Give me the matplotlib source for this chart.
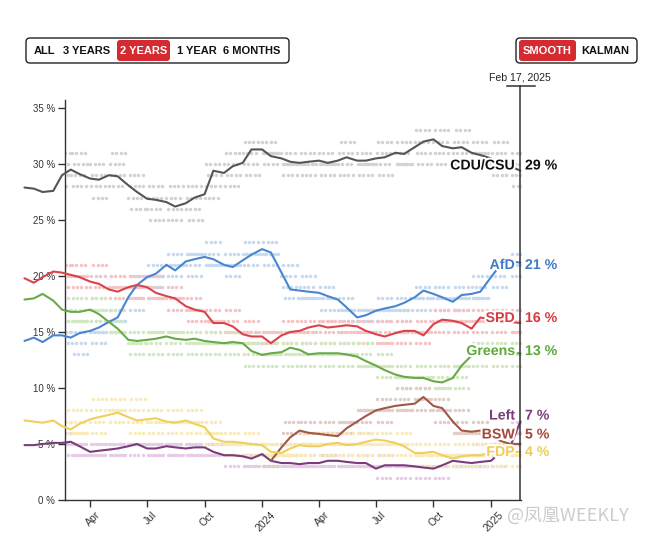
import numpy as np
import pandas as pd
import matplotlib
matplotlib.use("Agg")
import matplotlib.pyplot as plt
import matplotlib.dates as mdates
import matplotlib.patheffects as pe
import matplotlib.transforms as mtransforms
from matplotlib.patches import FancyBboxPatch

plt.rcParams['font.family'] = ['Liberation Sans', 'DejaVu Sans']

# smoothed trend, read twice a month
dates = pd.to_datetime([
    "2022-12-17",
    "2023-01-01", "2023-01-15", "2023-02-01", "2023-02-15", "2023-03-01", "2023-03-15",
    "2023-04-01", "2023-04-15", "2023-05-01", "2023-05-15", "2023-06-01", "2023-06-15",
    "2023-07-01", "2023-07-15", "2023-08-01", "2023-08-15", "2023-09-01", "2023-09-15",
    "2023-10-01", "2023-10-15", "2023-11-01", "2023-11-15", "2023-12-01", "2023-12-15",
    "2024-01-01", "2024-01-15", "2024-02-01", "2024-02-15", "2024-03-01", "2024-03-15",
    "2024-04-01", "2024-04-15", "2024-05-01", "2024-05-15", "2024-06-01", "2024-06-15",
    "2024-07-01", "2024-07-15", "2024-08-01", "2024-08-15", "2024-09-01", "2024-09-15",
    "2024-10-01", "2024-10-15", "2024-11-01", "2024-11-15", "2024-12-01", "2024-12-15",
    "2025-01-01", "2025-01-15", "2025-02-01", "2025-02-17"])

cdu = [27.9, 27.8, 27.5, 27.6, 29.0, 29.5, 29.1, 28.7, 28.6, 29.0,
       28.9, 28.1, 27.5, 26.9, 26.8, 26.6, 26.2, 26.5, 27.0, 27.3,
       29.4, 29.2, 29.8, 30.1, 31.3, 31.3, 30.7, 30.5, 30.2, 30.1,
       30.2, 30.3, 30.1, 30.3, 30.6, 30.3, 30.3, 30.5, 30.6, 31.0,
       30.9, 31.5, 32.0, 32.2, 31.6, 31.4, 31.5, 31.0, 30.8, 30.5,
       30.1, 29.8, 29.4]
afd = [14.2, 14.5, 14.1, 14.7, 14.7, 14.5, 14.9, 15.1, 15.4, 15.9,
       16.3, 18.1, 19.2, 19.9, 20.2, 21.0, 20.5, 21.3, 21.5, 21.7,
       21.5, 21.0, 20.8, 21.4, 21.9, 22.4, 22.1, 20.3, 18.8, 18.7,
       18.6, 18.5, 18.2, 17.9, 17.2, 16.3, 16.5, 16.9, 17.1, 17.3,
       17.6, 18.1, 18.7, 18.4, 18.1, 17.7, 18.3, 18.4, 18.6, 19.9,
       20.9, 21.3, 21.2]
spd = [19.8, 19.4, 19.9, 20.4, 20.3, 20.1, 19.9, 19.5, 19.3, 18.8,
       18.6, 19.0, 19.2, 19.0, 18.5, 18.2, 18.0, 17.3, 17.0, 16.8,
       15.8, 15.8, 15.5, 14.8, 14.6, 14.6, 14.0, 14.7, 15.0, 15.1,
       15.4, 15.6, 15.4, 15.5, 15.6, 15.5, 15.1, 14.8, 14.6, 14.9,
       15.1, 15.1, 14.7, 15.7, 16.1, 16.0, 15.8, 15.3, 16.3, 16.1,
       16.0, 15.9, 15.8]
greens = [17.9, 18.0, 18.4, 17.8, 17.0, 16.8, 16.8, 17.0, 16.6, 15.9,
          15.3, 14.3, 14.2, 14.3, 14.4, 14.6, 14.4, 14.3, 14.4, 14.2,
          14.1, 14.0, 14.1, 14.0, 13.3, 12.95, 13.1, 13.2, 13.6, 13.4,
          13.0, 13.1, 13.1, 13.1, 13.0, 12.8, 12.4, 12.0, 11.6, 11.2,
          11.0, 10.9, 10.9, 10.6, 10.5, 10.9, 12.0, 12.9, 13.4, 13.2,
          13.2, 13.1, 13.1]
fdp = [7.1, 7.0, 6.9, 7.1, 6.6, 6.3, 6.8, 7.2, 7.4, 7.6,
       7.8, 7.4, 7.1, 7.2, 7.3, 7.0, 6.9, 7.1, 6.8, 6.5,
       5.5, 5.2, 5.2, 5.1, 5.0, 4.9, 4.3, 4.2, 4.6, 4.9,
       4.8, 4.8, 5.0, 5.1, 4.9, 5.0, 5.2, 5.4, 5.3, 5.1,
       4.8, 4.2, 4.2, 4.3, 4.0, 3.7, 3.9, 4.0, 4.0, 4.2,
       4.3, 4.3, 4.3]
left = [4.9, 4.9, 5.0, 5.1, 5.1, 5.2, 4.8, 4.3, 4.4, 4.5,
        4.6, 4.8, 5.0, 4.6, 4.6, 4.8, 4.7, 4.6, 4.7, 4.7,
        4.3, 4.0, 4.0, 3.9, 3.7, 4.1, 3.5, 3.3, 3.3, 3.2,
        3.3, 3.3, 3.5, 3.5, 3.4, 3.3, 3.3, 2.8, 3.1, 3.1,
        3.1, 3.0, 2.9, 2.8, 3.1, 3.5, 3.4, 3.3, 3.4, 3.5,
        4.2, 4.8, 7.0]
bsw = [np.nan] * 26 + [
       3.5, 4.7, 5.6, 6.2, 6.0, 5.9, 5.8, 5.7, 6.4, 7.0,
       7.5, 8.0, 8.2, 8.4, 8.5, 8.6, 9.2, 8.4, 8.2, 7.0,
       6.2, 6.1, 6.2, 5.9, 5.3, 5.0, 5.0]

# single polls: four institutes, monthly figure each (Feb 2023 .. Feb 2025)
poll_months = pd.date_range("2023-02-01", periods=25, freq="MS")
cdu_polls = [[28, 30, 29, 31], [29, 31, 28, 30], [30, 28, 29, 27], [28, 30, 29, 31],
             [27, 29, 28, 26], [26, 27, 28, 25], [27, 25, 26, 28], [26, 27, 28, 25],
             [27, 30, 28, 29], [30, 28, 31, 29], [31, 30, 32, 29], [32, 31, 30, 31],
             [31, 30, 29, 30], [30, 31, 29, 30], [31, 30, 29, 30], [30, 31, 29, 32],
             [31, 30, 29, 30], [30, 31, 32, 29], [31, 30, 32, 30], [32, 33, 31, 30],
             [32, 31, 33, 30], [31, 32, 30, 33], [31, 32, 30, 31], [30, 31, 29, 32],
             [30, 29, 31, 28]]
afd_polls = [[15, 14, 16, 15], [15, 14, 16, 13], [15, 16, 14, 15], [16, 17, 15, 16],
             [18, 19, 17, 20], [20, 21, 19, 20], [21, 20, 22, 21], [21, 22, 20, 22],
             [22, 21, 23, 21], [21, 22, 20, 21], [22, 21, 23, 22], [22, 23, 21, 22],
             [20, 19, 21, 18], [19, 18, 20, 18], [18, 19, 17, 18], [17, 18, 16, 17],
             [16, 17, 15, 17], [17, 16, 18, 17], [17, 18, 16, 17], [18, 19, 17, 18],
             [18, 19, 17, 18], [18, 17, 19, 18], [19, 18, 20, 18], [20, 21, 19, 21],
             [21, 20, 22, 21]]
spd_polls = [[21, 20, 19, 21], [20, 21, 19, 20], [19, 20, 18, 21], [19, 18, 20, 19],
             [19, 20, 18, 19], [19, 18, 20, 18], [18, 19, 17, 18], [17, 18, 16, 17],
             [16, 17, 15, 16], [16, 15, 17, 15], [15, 14, 16, 15], [14, 15, 13, 15],
             [15, 14, 16, 15], [15, 16, 14, 15], [16, 15, 14, 16], [15, 16, 14, 15],
             [15, 14, 16, 15], [15, 14, 16, 14], [15, 14, 16, 15], [15, 14, 16, 15],
             [16, 15, 17, 16], [16, 15, 17, 16], [16, 15, 17, 16], [16, 15, 17, 16],
             [16, 15, 17, 15]]
greens_polls = [[17, 18, 16, 17], [17, 16, 18, 16], [17, 16, 18, 17], [16, 15, 17, 15],
                [14, 15, 13, 14], [14, 15, 13, 15], [14, 15, 13, 15], [14, 15, 13, 14],
                [14, 13, 15, 14], [14, 13, 15, 14], [14, 13, 12, 14], [13, 12, 14, 13],
                [13, 14, 12, 13], [13, 12, 14, 13], [13, 12, 14, 13], [13, 12, 14, 13],
                [13, 12, 14, 12], [12, 11, 13, 12], [11, 12, 10, 11], [11, 10, 12, 11],
                [11, 10, 12, 10], [11, 12, 10, 12], [13, 12, 14, 13], [13, 14, 12, 13],
                [13, 14, 12, 13]]
fdp_polls = [[7, 6, 8, 7], [7, 6, 8, 6], [7, 8, 6, 9], [8, 7, 9, 8],
             [7, 8, 6, 9], [7, 8, 6, 7], [7, 6, 8, 7], [7, 6, 8, 7],
             [6, 5, 7, 6], [5, 6, 4, 5], [5, 4, 6, 5], [5, 4, 5, 4],
             [4, 5, 4, 5], [5, 4, 6, 5], [5, 4, 6, 5], [5, 4, 6, 5],
             [5, 6, 4, 5], [5, 6, 4, 5], [5, 4, 6, 5], [4, 5, 3, 4],
             [4, 3, 5, 4], [4, 3, 5, 4], [4, 3, 5, 4], [4, 5, 3, 4],
             [4, 5, 3, 4]]
left_polls = [[5, 4, 5, 6], [5, 4, 5, 4], [4, 5, 4, 5], [5, 4, 5, 4],
              [5, 4, 5, 5], [5, 4, 5, 4], [5, 4, 5, 4], [5, 4, 5, 4],
              [4, 5, 4, 5], [4, 3, 4, 5], [4, 3, 4, 3], [4, 3, 4, 3],
              [3, 4, 3, 3], [3, 4, 3, 3], [3, 4, 3, 4], [3, 4, 3, 3],
              [3, 4, 3, 3], [3, 2, 3, 4], [3, 2, 3, 3], [3, 2, 3, 4],
              [3, 2, 3, 4], [3, 4, 3, 4], [3, 4, 3, 4], [4, 3, 4, 5],
              [5, 6, 7, 6]]
bsw_polls = [[]] * 11 + [
             [None, 4, 3, None], [5, 6, 4, 7], [6, 7, 5, 6], [6, 7, 5, 6],
             [6, 7, 5, 7], [7, 8, 6, 8], [8, 9, 7, 8], [9, 8, 10, 8],
             [9, 10, 8, 9], [8, 9, 7, 8], [7, 6, 8, 6], [6, 5, 7, 6],
             [5, 6, 4, 6], [5, 4, 6, 5]]

names = ["CDU/CSU", "AfD", "SPD", "Greens", "Left", "BSW", "FDP"]
current = [29, 21, 16, 13, 7, 5, 4]
label_y = [29.87, 20.98, 16.25, 13.3, 7.54, 5.85, 4.29]

line_colors = ["#555555", "#4a86cf", "#d9434a", "#67aa47", "#7a3d7c", "#a0584a", "#f0cf5a"]
dot_colors = ["#d2d2d2", "#c3daf1", "#f6c3c5", "#d2e8c1", "#e6cbe6", "#e2ccc5", "#f9ebb8"]
text_colors = ["#111111", "#3f7cc8", "#d83a40", "#5fa83a", "#7a3d7c", "#a5473a", "#f0cd52"]

trends = [cdu, afd, spd, greens, left, bsw, fdp]
polls = [cdu_polls, afd_polls, spd_polls, greens_polls, left_polls, bsw_polls, fdp_polls]
# each institute publishes weekly on its own weekday
institute_day = [1, 3, 4, 6]

W, H = 650, 543
fig = plt.figure(figsize=(W / 100, H / 100), dpi=100)
ax = fig.add_axes([64.5 / W, 43 / H, (521 - 64.5) / W, 400 / H])

x_start = pd.Timestamp("2023-02-19")
x_end = pd.Timestamp("2025-02-18")
today = pd.Timestamp("2025-02-17")

# poll dots
for vals, col in zip(polls, dot_colors):
    px, py = [], []
    for m, row in zip(poll_months, vals):
        for d, v in zip(institute_day, row):
            if v is None:
                continue
            for week in range(4):
                px.append(m + pd.Timedelta(days=d - 1 + 7 * week))
                py.append(v)
    ax.scatter(px, py, s=6, color=col, linewidths=0, zorder=1)

# trend lines (they run past the left axis)
for vals, col in zip(trends, line_colors):
    ax.plot(dates, vals, color=col, lw=1.5, zorder=3, clip_on=False,
            solid_capstyle="round", solid_joinstyle="round")

ax.set_xlim(x_start, x_end)
ax.set_ylim(0, 400 / 11.2)

ax.set_yticks(range(0, 36, 5))
ax.set_yticklabels([f"{v} %" for v in range(0, 36, 5)])
ax.xaxis.set_major_locator(mdates.MonthLocator(bymonth=[1, 4, 7, 10]))
ax.xaxis.set_major_formatter(
    plt.FuncFormatter(lambda v, p: mdates.num2date(v).strftime("%Y" if mdates.num2date(v).month == 1 else "%b")))
ax.tick_params(axis="x", labelsize=7.5, length=5, width=1, color="#333333",
               labelcolor="#333333", pad=2, labelrotation=45)
ax.tick_params(axis="y", labelsize=7, length=5, width=1, color="#333333",
               labelcolor="#333333", pad=2)
shift = mtransforms.ScaledTranslation(3 / 100, 0, fig.dpi_scale_trans)
for lab in ax.get_xticklabels():
    lab.set_ha("center")
    lab.set_transform(lab.get_transform() + shift)
for s in ["top", "right"]:
    ax.spines[s].set_visible(False)
for s in ["left", "bottom"]:
    ax.spines[s].set_color("#333333")
    ax.spines[s].set_linewidth(1)

# today marker
ax.axvline(today, ymin=0, ymax=(500 - 86) / 400, color="#333333", lw=1.1,
           clip_on=False, zorder=4)
fig.add_artist(plt.Line2D([507 / W, 535 / W], [1 - 86 / H, 1 - 86 / H],
                          color="#333333", lw=1.1))
fig.text(520 / W, 1 - 77.5 / H, "Feb 17, 2025", ha="center", va="center",
         fontsize=7.6, color="#222222")

# party labels
halo = [pe.withStroke(linewidth=3, foreground="white")]
for name, val, y, col in zip(names, current, label_y, text_colors):
    ax.annotate(name, (today, y), xytext=(-4, 0), textcoords="offset points",
                ha="right", va="center", fontsize=10.2, fontweight="bold", color=col,
                path_effects=halo, annotation_clip=False, zorder=6)
    ax.annotate(f"{val} %", (today, y), xytext=(3.3, 0), textcoords="offset points",
                ha="left", va="center", fontsize=10.2, fontweight="bold", color=col,
                path_effects=halo, annotation_clip=False, zorder=6)


# button bars
def box(x0, y0, x1, y1, face, edge=None, r=4):
    p = FancyBboxPatch((x0 / 100, (H - y1) / 100), (x1 - x0) / 100, (y1 - y0) / 100,
                       boxstyle=f"round,pad=0,rounding_size={r / 100}",
                       transform=fig.dpi_scale_trans, facecolor=face,
                       edgecolor=edge if edge else face, lw=1 if edge else 0)
    fig.add_artist(p)


def btn_text(xc, yc, s, col="#111111"):
    fig.text(xc / W, 1 - yc / H, s, ha="center", va="center", fontsize=8,
             fontweight="bold", color=col)


box(26, 38, 289, 63, "white", "#222222", r=4)
box(117, 40, 170, 61, "#d42a30", r=3)
for xc, s in zip([44.5, 87, 143.5, 196.5, 252],
                 ["ALL", "3 YEARS", "2 YEARS", "1 YEAR", "6 MONTHS"]):
    btn_text(xc, 50.5, s, "white" if s == "2 YEARS" else "#111111")

box(516, 38, 637, 63, "white", "#222222", r=4)
box(519, 40, 576, 61, "#d42a30", r=3)
btn_text(547, 50.5, "SMOOTH", "white")
btn_text(605.5, 50.5, "KALMAN")

# watermark
fig.text(568 / W, 1 - 516 / H, "@凤凰WEEKLY", ha="center", va="center",
         fontsize=13, color="#cccccc", family=["Noto Sans CJK SC", "DejaVu Sans"])

fig.savefig("out.png", dpi=100)
